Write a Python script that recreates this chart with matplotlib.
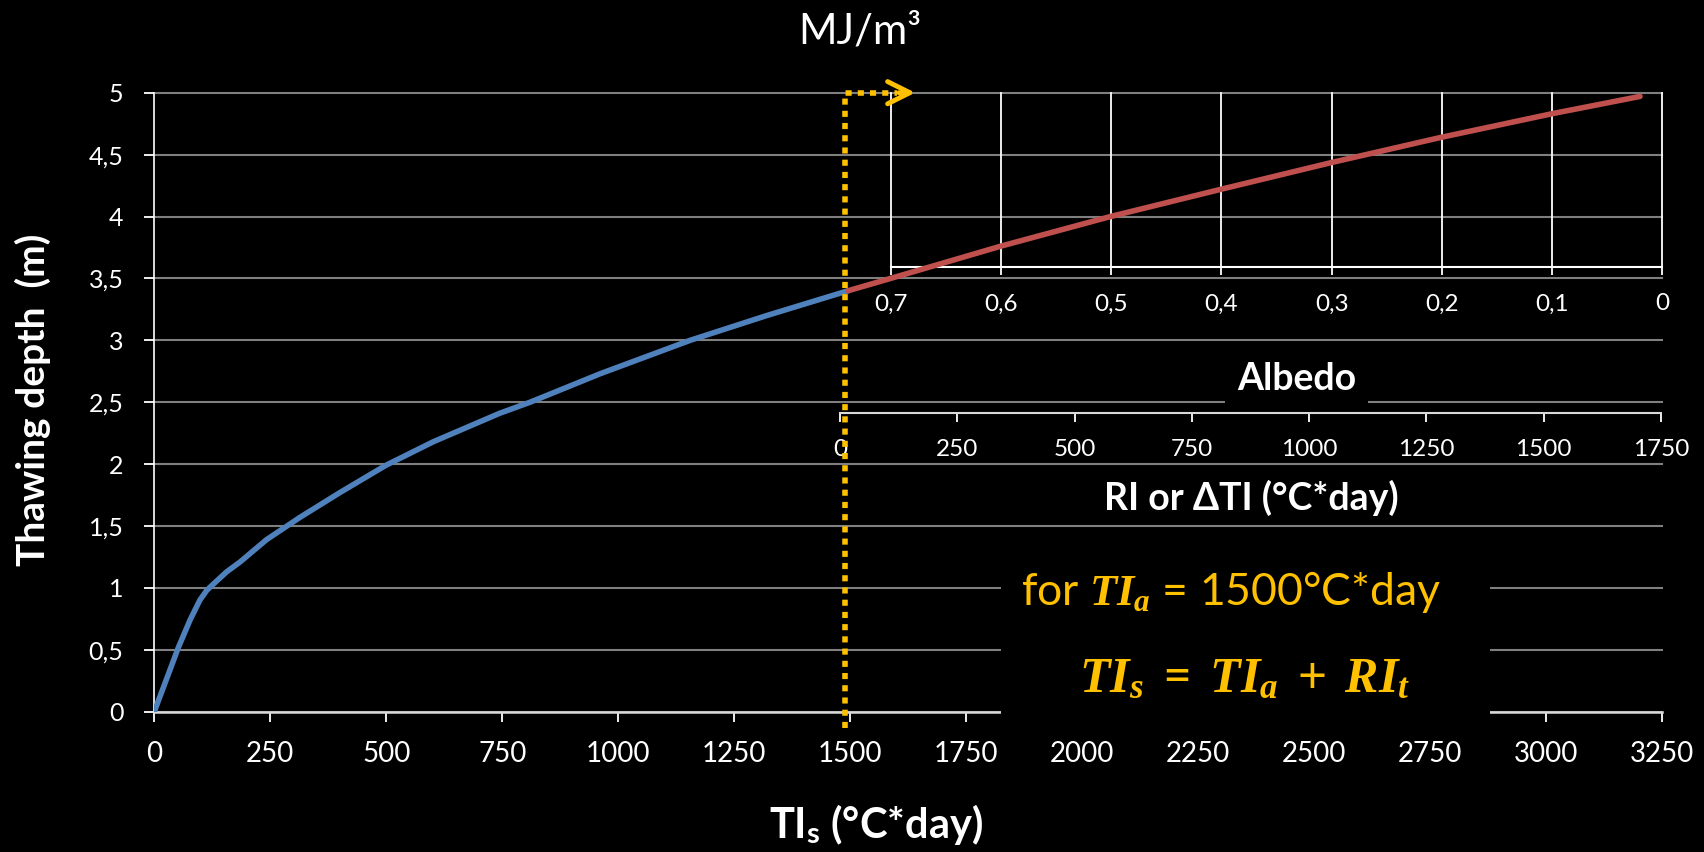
import matplotlib.pyplot as plt
from matplotlib.patches import Rectangle

# thawing depth vs surface thawing index
ti_blue = [0, 52, 77, 98, 113, 127, 156, 185, 242, 314, 400, 499, 601, 744, 810, 961, 1155,
           1320, 1495]
depth_blue = [0, 0.52, 0.74, 0.90, 0.98, 1.03, 1.13, 1.21, 1.39, 1.57, 1.77, 1.99, 2.18, 2.41,
              2.50, 2.73, 3.00, 3.20, 3.40]

ti_red = [1495, 1587, 1824, 2061, 2299, 2536, 2774, 3012, 3202]
depth_red = [3.40, 3.50, 3.76, 4.00, 4.22, 4.435, 4.64, 4.83, 4.97]

ti_ticks = [0, 250, 500, 750, 1000, 1250, 1500, 1750, 2000, 2250, 2500, 2750, 3000, 3250]
ti_labels = [str(v) for v in ti_ticks]
depth_ticks = [0, 0.5, 1, 1.5, 2, 2.5, 3, 3.5, 4, 4.5, 5]
depth_labels = ["0", "0,5", "1", "1,5", "2", "2,5", "3", "3,5", "4", "4,5", "5"]

albedo_ticks = [0.7, 0.6, 0.5, 0.4, 0.3, 0.2, 0.1, 0]
albedo_labels = ["0,7", "0,6", "0,5", "0,4", "0,3", "0,2", "0,1", "0"]

ri_ticks = [0, 250, 500, 750, 1000, 1250, 1500, 1750]
ri_labels = [str(v) for v in ri_ticks]

guide_ti = 1488      # TI_s where the secondary scales start
arrow_tip = 1640

ORANGE = '#FFC000'
W, H = 1704, 852


def fx(px):
    return px / W


def fy(py):
    return 1 - py / H


plt.rcParams['font.family'] = ['Lato', 'DejaVu Sans']
plt.rcParams['mathtext.fontset'] = 'custom'
plt.rcParams['mathtext.rm'] = 'Lato'
plt.rcParams['mathtext.bf'] = 'Lato:bold'
plt.rcParams['mathtext.it'] = 'Liberation Serif:italic:bold'

fig = plt.figure(figsize=(17.04, 8.52), dpi=100, facecolor='black')
ax = fig.add_axes([fx(154.3), fy(711.7), fx(1662.3) - fx(154.3), fy(92.7) - fy(711.7)])
ax.set_facecolor('black')
ax.set_xlim(0, 3250)
ax.set_ylim(0, 5)
ax.set_xticks(ti_ticks, ti_labels)
ax.set_yticks(depth_ticks, depth_labels)
ax.tick_params(axis='x', colors='white', length=7.2, width=1.3, pad=14, labelsize=20)
ax.tick_params(axis='y', colors='white', length=7.2, width=1.3, pad=15, labelsize=18)
ax.grid(axis='y', color='#7f7f7f', lw=1.5)
for gl in ax.get_ygridlines():
    gl.set_clip_on(False)
ax.set_axisbelow(True)
for s in ['top', 'right']:
    ax.spines[s].set_visible(False)
ax.spines['left'].set_color('white')
ax.spines['left'].set_linewidth(1.2)
ax.spines['bottom'].set_color('#d9d9d9')
ax.spines['bottom'].set_linewidth(1.8)

# curves
ax.plot(ti_blue, depth_blue, color='#4F81BD', lw=4, zorder=4, solid_capstyle='round',
        solid_joinstyle='round')
ax.plot(ti_red, depth_red, color='#C0504D', lw=4, zorder=4, solid_capstyle='round',
        solid_joinstyle='round')

# albedo scale (upper right)
alb = ax.inset_axes([1587, 3.59, 3250 - 1587, 5 - 3.59], transform=ax.transData)
alb.set_zorder(1.5)
alb.set_facecolor('none')
alb.set_xlim(0.7, 0)
alb.set_ylim(0, 1)
alb.set_xticks(albedo_ticks, albedo_labels)
alb.set_yticks([])
for s in ['top', 'right', 'left']:
    alb.spines[s].set_visible(False)
alb.spines['bottom'].set_color('white')
alb.spines['bottom'].set_linewidth(1.5)
alb.grid(axis='x', color='white', lw=1.3)
for gl in alb.get_xgridlines():
    gl.set_clip_on(False)
alb.tick_params(axis='x', colors='white', length=5.8, width=1.3, pad=13, labelsize=17.5)

# RI scale (middle right)
ri = ax.inset_axes([1478, 2.411, 3247 - 1478, 0.05], transform=ax.transData)
ri.set_zorder(1.5)
ri.set_facecolor('none')
ri.set_xlim(0, 1750)
ri.set_xticks(ri_ticks, ri_labels)
ri.set_yticks([])
for s in ['top', 'right', 'left']:
    ri.spines[s].set_visible(False)
ri.spines['bottom'].set_color('#d9d9d9')
ri.spines['bottom'].set_linewidth(1.5)
ri.tick_params(axis='x', colors='white', length=6.5, width=1.3, pad=12, labelsize=17.5)

# guide line and arrow
ax.plot([guide_ti, guide_ti, 1600], [-0.13, 5, 5], color=ORANGE, lw=4,
        linestyle=(0, (1.1, 1.1)), zorder=5, clip_on=False)
ax.annotate('', xy=(arrow_tip, 5), xytext=(1605, 5), annotation_clip=False,
            arrowprops=dict(arrowstyle='->,head_length=1.0,head_width=0.5', color=ORANGE,
                            lw=3.5, mutation_scale=16, shrinkA=0, shrinkB=0))

# black patches hiding gridlines behind labels
ax.add_patch(Rectangle((2308, 2.45), 308, 0.11, facecolor='black', edgecolor='none',
                       zorder=2, clip_on=False))
ax.add_patch(Rectangle((1824, -0.12), 1055, 1.37, facecolor='black', edgecolor='none',
                       zorder=3, clip_on=False))

# texts
fig.text(fx(860), fy(43), 'MJ/m³', color='white', fontsize=30, ha='center', va='baseline')
fig.text(fx(33), fy(400), 'Thawing depth  (m)', color='white', fontsize=28, fontweight='bold',
         rotation=90, ha='center', va='center')
fig.text(fx(876), fy(838), r'TI$_\mathbf{s}$ (°C*day)', color='white', fontsize=30,
         fontweight='bold', ha='center', va='baseline')
fig.text(fx(1296.5), fy(390), 'Albedo', color='white', fontsize=27, fontweight='bold',
         ha='center', va='baseline')
fig.text(fx(1251), fy(510), 'RI or ΔTI (°C*day)', color='white', fontsize=27,
         fontweight='bold', ha='center', va='baseline')
fig.text(fx(1231), fy(605), r'for $TI_a$ = 1500°C*day', color=ORANGE, fontsize=32,
         ha='center', va='baseline')
fig.text(fx(1245), fy(692), r'$TI_s\;=\;TI_a\;+\;RI_t$', color=ORANGE, fontsize=36,
         ha='center', va='baseline')

fig.savefig('out.png', dpi=100, facecolor='black')
